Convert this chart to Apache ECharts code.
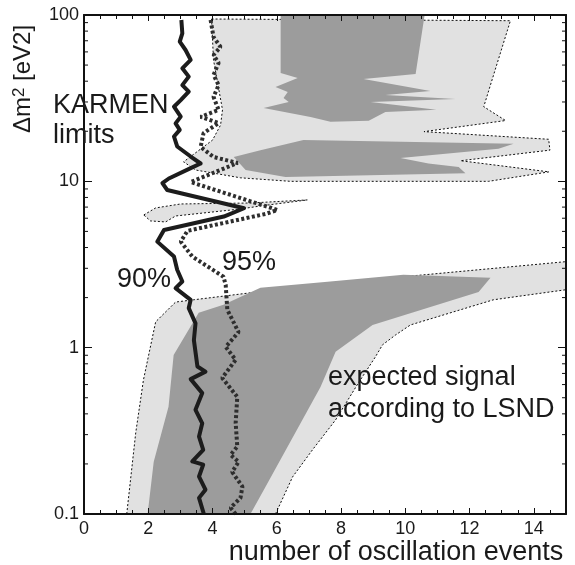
<!DOCTYPE html>
<html>
<head>
<meta charset="utf-8">
<script src="https://cdn.jsdelivr.net/npm/echarts@6/dist/echarts.min.js"></script>
<style>
html, body { margin: 0; padding: 0; background: #fff; }
#chart { width: 575px; height: 565px; }
</style>
</head>
<body>
<div id="chart"></div>
<script>
// KARMEN 90% / 95% limits, [number of events, dm2]
const limit90 = [[3.03,93.3],[3.06,77.6],[2.98,69.1],[3.16,61.6],[3.32,53.7],[3.06,47.8],[3.26,42.6],[3.06,37.9],[3.26,34.6],[3.01,30.8],[2.80,28.1],[3.01,24.5],[2.85,22.3],[2.98,20.4],[2.80,18.6],[2.90,16.2],[3.32,14.1],[3.63,12.8],[3.32,12.0],[2.64,10.4],[2.44,9.75],[2.59,8.87],[4.98,6.89],[4.35,6.14],[2.49,5.10],[2.28,4.34],[2.80,3.53],[2.90,2.94],[3.06,2.50],[2.85,2.28],[3.32,1.94],[3.26,1.73],[3.47,1.40],[3.42,1.11],[3.53,0.77],[3.78,0.718],[3.32,0.647],[3.68,0.533],[3.47,0.423],[3.68,0.351],[3.58,0.292],[3.71,0.243],[3.37,0.207],[3.71,0.198],[3.58,0.168],[3.78,0.140],[3.58,0.125],[3.73,0.1]];
const limit95 = [[3.94,93.3],[4.03,73.8],[4.25,64.2],[4.03,57.5],[4.19,51.5],[4.03,43.6],[4.19,37.9],[4.03,32.2],[4.19,26.9],[3.63,24.4],[4.19,22.4],[3.72,19.5],[3.63,16.1],[4.03,14.0],[4.78,12.9],[3.32,9.9],[6.02,6.73],[5.65,6.37],[3.22,5.04],[3.01,4.34],[3.37,3.53],[4.34,2.67],[4.41,2.38],[4.46,1.69],[4.81,1.24],[4.41,1.01],[4.72,0.845],[4.30,0.658],[4.77,0.506],[4.72,0.353],[4.77,0.254],[4.56,0.227],[4.81,0.206],[4.61,0.179],[4.93,0.146],[4.87,0.125],[4.56,0.109],[4.72,0.1]];

// expected LSND signal regions (outer = light, inner = dark)
const upperOuter = [[3.97,94.6],[13.27,92.4],[12.44,28.1],[13.12,23.2],[10.58,19.9],[14.46,17.9],[14.50,15.4],[11.72,13.3],[14.47,11.4],[12.59,10.0],[6.43,10.0],[4.87,10.5],[3.47,11.7],[3.10,13.1],[4.00,17.7],[4.25,21.8],[4.31,26.9],[4.03,53.7]];
const midOuter = [[1.86,6.28],[2.23,6.92],[3.01,7.31],[5.18,7.41],[6.95,7.73],[5.49,7.11],[4.87,6.82],[2.85,6.19],[2.54,5.70],[2.07,5.78]];
const lowerOuter = [[1.33,0.1],[1.61,0.308],[1.85,0.640],[2.23,1.43],[2.85,1.88],[3.41,1.94],[5.12,2.13],[7.67,2.45],[10.57,2.74],[15,3.29],[15,2.23],[12.74,1.94],[10.16,1.37],[9.69,1.19],[9.29,1.04],[9.07,0.881],[8.54,0.614],[7.83,0.368],[7.11,0.243],[6.49,0.167],[5.96,0.1]];
const upperInnerA = [[6.12,100],[10.60,100],[10.32,44.2],[8.70,41.2],[10.78,34.9],[9.38,33.0],[11.56,31.3],[8.92,30.0],[10.97,26.9],[9.38,26.1],[8.86,23.1],[7.67,22.8],[7.05,24.4],[5.59,27.6],[6.37,30.0],[6.21,31.7],[6.34,34.5],[5.96,36.9],[6.65,41.8],[6.12,44.8]];
const upperInnerB = [[4.66,14.0],[5.49,15.4],[6.83,17.7],[13.37,16.8],[12.90,15.7],[9.85,13.8],[10.72,12.8],[11.66,12.2],[11.87,11.2],[6.27,10.6],[5.03,11.7]];
const lowerInner = [[1.98,0.1],[2.17,0.206],[2.63,0.441],[2.79,0.905],[3.57,1.62],[4.34,1.81],[5.49,2.29],[7.58,2.49],[9.94,2.74],[12.65,2.63],[12.28,2.16],[8.98,1.37],[7.83,0.944],[7.36,0.581],[5.65,0.146],[5.18,0.1]];

const yMinor = [0.2,0.3,0.4,0.5,0.6,0.7,0.8,0.9,2,3,4,5,6,7,8,9,20,30,40,50,60,70,80,90];

const FONT = "'Liberation Sans', Arial, sans-serif";
const LIGHT = '#e1e1e1';
const DARK = '#9c9c9c';

function region(points, fill, outlined) {
    return {
        type: 'custom',
        coordinateSystem: 'cartesian2d',
        clip: true,
        silent: true,
        data: [points[0]],
        renderItem: function (params, api) {
            return {
                type: 'polygon',
                shape: { points: points.map(p => api.coord(p)) },
                style: {
                    fill: fill,
                    stroke: outlined ? '#111' : null,
                    lineWidth: 1,
                    lineDash: [2, 2]
                }
            };
        }
    };
}

function xAxisDef(pos, labels) {
    return {
        type: 'value', position: pos, min: 0, max: 15, interval: 2, z: 10,
        axisLine: { show: true, onZero: false, lineStyle: { color: '#111', width: 2 } },
        axisTick: { show: true, inside: true, length: 6, lineStyle: { color: '#111', width: 1 } },
        minorTick: { show: true, splitNumber: 4, length: 4, lineStyle: { color: '#111', width: 1 } },
        axisLabel: { show: labels, margin: 6, color: '#1a1a1a', fontSize: 18, fontFamily: FONT,
            formatter: v => v > 14 ? '' : String(v) },
        splitLine: { show: false }
    };
}

function yAxisDef(pos, labels) {
    return {
        type: 'log', logBase: 10, position: pos, min: 0.1, max: 100, z: 10,
        axisLine: { show: true, onZero: false, lineStyle: { color: '#111', width: 2 } },
        axisTick: { show: true, inside: true, length: 8, lineStyle: { color: '#111', width: 1 } },
        axisLabel: { show: labels, margin: 5, color: '#1a1a1a', fontSize: 18, fontFamily: FONT,
            formatter: v => v < 1 ? v.toFixed(1) : String(Math.round(v)) },
        splitLine: { show: false }
    };
}

function label(x, y, text) {
    return { type: 'text', x: x, y: y, z: 100,
        style: { text: text, font: '27px ' + FONT, fill: '#1a1a1a', textVerticalAlign: 'middle' } };
}

const chart = echarts.init(document.getElementById('chart'), null, { renderer: 'canvas' });

const option = {
    animation: false,
    backgroundColor: '#fff',
    grid: { left: 84, right: 9, top: 15, bottom: 51 },
    xAxis: [xAxisDef('bottom', true), xAxisDef('top', false)],
    yAxis: [yAxisDef('left', true), yAxisDef('right', false)],
    series: [
        region(lowerOuter, LIGHT, true),
        region(upperOuter, LIGHT, true),
        region(midOuter, LIGHT, true),
        region(upperInnerA, DARK, false),
        region(upperInnerB, DARK, false),
        region(lowerInner, DARK, false),
        {
            type: 'line', data: limit95, showSymbol: false, silent: true, z: 4,
            lineStyle: { color: '#2e2e2e', width: 4, type: [3, 2.4], cap: 'butt' }
        },
        {
            type: 'line', data: limit90, showSymbol: false, silent: true, z: 5,
            lineStyle: { color: '#1c1c1c', width: 4, join: 'round' }
        },
        {
            // log-axis minor ticks on left and right frame
            type: 'custom', coordinateSystem: 'cartesian2d', silent: true, clip: false, z: 11,
            data: yMinor.map(v => [0, v]),
            renderItem: function (params, api) {
                const a = api.coord([0, api.value(1)]);
                const b = api.coord([15, api.value(1)]);
                const st = { stroke: '#111', lineWidth: 1 };
                return {
                    type: 'group',
                    children: [
                        { type: 'line', shape: { x1: a[0], y1: a[1], x2: a[0] + 4, y2: a[1] }, style: st },
                        { type: 'line', shape: { x1: b[0], y1: b[1], x2: b[0] - 4, y2: b[1] }, style: st }
                    ]
                };
            }
        }
    ],
    graphic: [
        label(53, 106, 'KARMEN'),
        label(53, 136, 'limits'),
        label(117, 280, '90%'),
        label(222, 263, '95%'),
        label(328, 378, 'expected signal'),
        label(328, 410, 'according to LSND'),
        { type: 'text', x: 396, y: 553, z: 100,
          style: { text: 'number of oscillation events', font: '27px ' + FONT, fill: '#1a1a1a', textAlign: 'center', textVerticalAlign: 'middle' } },
        {
            type: 'text', x: 23, y: 79, rotation: Math.PI / 2, z: 100,
            style: {
                text: '{a|Δm}{s|2}{a| [eV2]}',
                textAlign: 'center', textVerticalAlign: 'middle',
                rich: {
                    a: { fontSize: 24, fontFamily: FONT, fill: '#1a1a1a' },
                    s: { fontSize: 17, fontFamily: FONT, fill: '#1a1a1a', verticalAlign: 'top' }
                }
            }
        }
    ]
};

chart.setOption(option);
</script>
</body>
</html>
